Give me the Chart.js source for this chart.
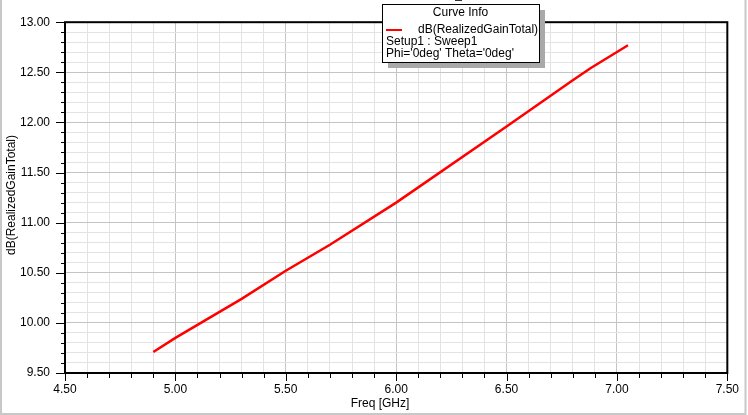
<!DOCTYPE html>
<html>
<head>
<meta charset="utf-8">
<script src="https://cdn.jsdelivr.net/npm/chart.js@4"></script>
<style>
  body { margin: 0; background: #fff; }
  #wrap { width: 748px; height: 415px; position: relative; }
</style>
</head>
<body>
<div id="wrap"><canvas id="gainChart" width="748" height="415"></canvas></div>
<script>
// values
const freqs = [4.9, 5.0, 5.3, 5.5, 5.7, 6.0, 6.5, 6.8, 6.88, 7.05];
const gains = [9.71, 9.85, 10.24, 10.52, 10.78, 11.20, 11.96, 12.42, 12.54, 12.77];

const xRange = [4.5, 7.5];
const yRange = [9.5, 13.0];
const minorStep = 0.1;

const xTitle = 'Freq [GHz]';
const yTitle = 'dB(RealizedGainTotal)';
const legendTitle = 'Curve Info';
const legendLines = ['dB(RealizedGainTotal)', 'Setup1 : Sweep1', "Phi='0deg' Theta='0deg'"];

const FONT = '"Liberation Sans", Arial, sans-serif';

function isMajor(v) {
  return Math.abs(v * 2 - Math.round(v * 2)) < 1e-6;
}

function gridColor(ctx) {
  if (!ctx.tick) return '#e3e3e3';
  return isMajor(ctx.tick.value) ? '#c4c4c4' : '#e3e3e3';
}

function tickLabel(v) {
  return isMajor(v) ? v.toFixed(2) : '';
}

const decorPlugin = {
  id: 'decor',
  afterDraw(chart) {
    const ctx = chart.ctx;
    const a = chart.chartArea;
    const xs = chart.scales.x;
    const ys = chart.scales.y;
    ctx.save();

    // plot frame
    ctx.strokeStyle = '#000';
    ctx.lineWidth = 2;
    ctx.strokeRect(a.left, a.top, a.right - a.left, a.bottom - a.top);

    // tick marks, major longer
    ctx.lineWidth = 1;
    ctx.beginPath();
    ys.ticks.forEach(t => {
      const y = Math.round(ys.getPixelForValue(t.value)) + 0.5;
      const len = isMajor(t.value) ? 9 : 4;
      ctx.moveTo(a.left - len, y);
      ctx.lineTo(a.left, y);
    });
    xs.ticks.forEach(t => {
      const x = Math.round(xs.getPixelForValue(t.value)) + 0.5;
      const len = isMajor(t.value) ? 8 : 5;
      ctx.moveTo(x, a.bottom);
      ctx.lineTo(x, a.bottom + len);
    });
    ctx.stroke();

    // axis titles
    ctx.fillStyle = '#000';
    ctx.font = '12px ' + FONT;
    ctx.textAlign = 'center';
    ctx.textBaseline = 'middle';
    ctx.fillText(xTitle, 380, 404);
    ctx.save();
    ctx.translate(12, 195);
    ctx.rotate(-Math.PI / 2);
    ctx.fillText(yTitle, 0, 0);
    ctx.restore();

    // curve info box with shadow
    const bx = 382, by = 4, bw = 157, bh = 58;
    ctx.fillStyle = '#a9a9a9';
    ctx.fillRect(bx + 6, by + 6, bw, bh);
    ctx.fillStyle = '#fff';
    ctx.fillRect(bx, by, bw, bh);
    ctx.strokeStyle = '#000';
    ctx.lineWidth = 1;
    ctx.strokeRect(bx + 0.5, by + 0.5, bw, bh);

    ctx.fillStyle = '#000';
    ctx.textAlign = 'center';
    ctx.fillText(legendTitle, bx + bw / 2, 13);
    ctx.strokeStyle = '#ff0000';
    ctx.lineWidth = 2;
    ctx.beginPath();
    ctx.moveTo(386, 30);
    ctx.lineTo(402, 30);
    ctx.stroke();
    ctx.textAlign = 'left';
    ctx.fillText(legendLines[0], 418, 30);
    ctx.fillText(legendLines[1], 386, 42);
    ctx.fillText(legendLines[2], 386, 54);

    // small mark at the very top
    ctx.strokeStyle = '#333';
    ctx.lineWidth = 2;
    ctx.beginPath();
    ctx.moveTo(455, 0);
    ctx.lineTo(462, 0);
    ctx.stroke();

    // outer frame
    ctx.strokeStyle = '#c8c8c8';
    ctx.lineWidth = 2;
    ctx.beginPath();
    ctx.moveTo(1, 0);
    ctx.lineTo(1, 414);
    ctx.lineTo(745.5, 414);
    ctx.lineTo(745.5, 0);
    ctx.stroke();

    ctx.restore();
  }
};

const points = freqs.map((f, i) => ({ x: f, y: gains[i] }));

new Chart(document.getElementById('gainChart').getContext('2d'), {
  type: 'scatter',
  data: {
    datasets: [{
      label: legendLines[0],
      data: points,
      showLine: true,
      borderColor: '#ff0000',
      backgroundColor: '#ff0000',
      borderWidth: 2.5,
      pointRadius: 0,
      tension: 0
    }]
  },
  options: {
    responsive: false,
    animation: false,
    devicePixelRatio: 1,
    layout: { padding: { left: 0, right: 14, top: 11, bottom: 0 } },
    plugins: {
      legend: { display: false },
      tooltip: { enabled: false }
    },
    scales: {
      x: {
        type: 'linear',
        min: xRange[0],
        max: xRange[1],
        afterFit: s => { s.height = 42; },
        border: { display: false },
        grid: { color: gridColor, lineWidth: 1, drawTicks: false },
        ticks: {
          stepSize: minorStep,
          autoSkip: false,
          maxRotation: 0,
          padding: 9,
          color: '#000',
          font: { family: FONT, size: 12 },
          callback: tickLabel
        }
      },
      y: {
        type: 'linear',
        min: yRange[0],
        max: yRange[1],
        afterFit: s => { s.width = 65; },
        border: { display: false },
        grid: { color: gridColor, lineWidth: 1, drawTicks: false },
        ticks: {
          stepSize: minorStep,
          autoSkip: false,
          padding: 15,
          color: '#000',
          font: { family: FONT, size: 12 },
          callback: tickLabel
        }
      }
    }
  },
  plugins: [decorPlugin]
});
</script>
</body>
</html>
